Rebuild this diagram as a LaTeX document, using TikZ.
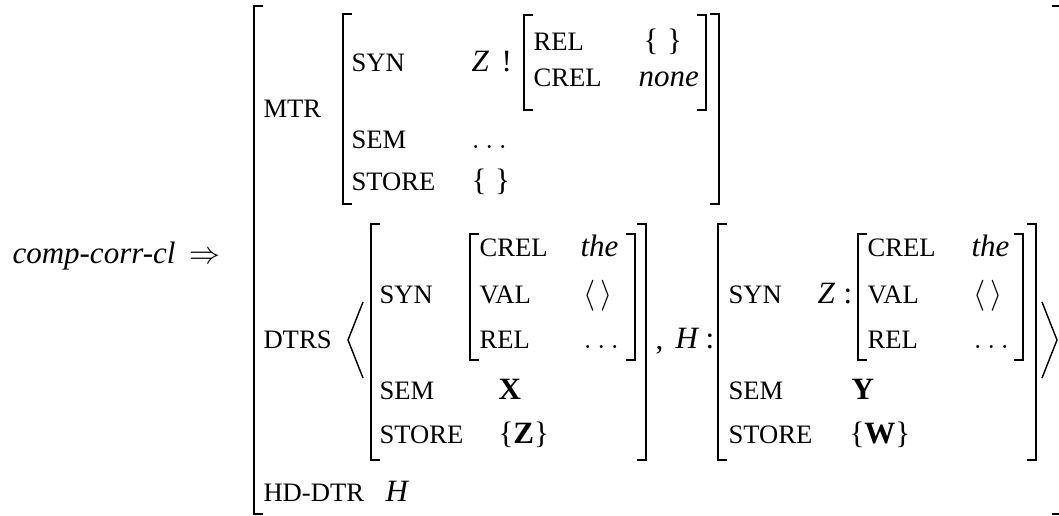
\documentclass[tikz,border=0pt]{standalone}
\usepackage{fontspec}
\setmainfont{Liberation Serif}
\begin{document}
\begin{tikzpicture}[x=0.387pt,y=-0.387pt]
\tikzset{
  lab/.style={inner sep=0pt, anchor=base west, font=\fontsize{10.3}{12}\selectfont},
  val/.style={inner sep=0pt, anchor=base west, font=\fontsize{12}{14}\selectfont},
  brk/.style={line width=0.75pt, line cap=butt, line join=miter},
  ang/.style={line width=0.55pt, line join=miter},
}
% square brackets: x, top, bottom
\newcommand\avmL[3]{\draw[brk] (#1+9,#2) -- (#1,#2) -- (#1,#3) -- (#1+9,#3);}
\newcommand\avmR[3]{\draw[brk] (#1-9,#2) -- (#1,#2) -- (#1,#3) -- (#1-9,#3);}
\useasboundingbox (0,0) rectangle (1059,516);

% type and implication
\node[val, anchor=base east] (type) at (176,264) {\textit{comp-corr-cl}};
\node[val] (impl) at (189,264) {$\Rightarrow$};

% outermost matrix
\avmL{254}{6}{514}
\avmR{1061}{6}{514}

% MTR
\node[lab] (mtr) at (263,118) {MTR};
\avmL{343}{14}{204}
\avmR{719}{14}{204}
\node[lab] (msyn) at (351,72) {SYN};
\node[val] (mz) at (471,72) {\textit{Z}};
\node[val] (mbang) at (501,72) {!};
\avmL{524}{15}{110}
\avmR{706}{15}{110}
\node[lab] (mrel) at (533,51) {REL};
\node[val] (mrelv) at (643,51) {\{\;\}};
\node[lab] (mcrel) at (533,87) {CREL};
\node[val] (mcrelv) at (638,87) {\textit{none}};
\node[lab] (msem) at (351,149) {SEM};
\node[val] (msemv) at (471,149) {$\ldots$};
\node[lab] (mstore) at (351,191) {STORE};
\node[val] (mstorev) at (471,191) {\{\;\}};

% DTRS
\node[lab] (dtrs) at (263,348) {DTRS};
\coordinate (la1) at (363,302);
\coordinate (la2) at (348,340);
\coordinate (la3) at (363,378);
\draw[ang] (la1) -- (la2) -- (la3);

% first daughter
\avmL{371}{224}{460}
\avmR{646}{224}{460}
\node[lab] (asyn) at (379,304) {SYN};
\avmL{470}{234}{360}
\avmR{635}{234}{360}
\node[lab] (acrel) at (479,257) {CREL};
\node[val] (acrelv) at (580,257) {\textit{the}};
\node[lab] (aval) at (479,304) {VAL};
\node[val] (avalv) at (583,304) {$\langle\,\rangle$};
\node[lab] (arel) at (479,348) {REL};
\node[val] (arelv) at (583,348) {$\ldots$};
\node[lab] (asem) at (379,399) {SEM};
\node[val] (asemv) at (498,399) {\textbf{X}};
\node[lab] (astore) at (379,443) {STORE};
\node[val] (astorev) at (498,443) {\{\textbf{Z}\}};

\node[val] (comma) at (655,350) {,};
\node[val] (hh) at (675,348) {\textit{H}};
\node[val] (hcolon) at (705,348) {:};

% head daughter
\avmL{718}{224}{460}
\avmR{1036}{224}{460}
\node[lab] (bsyn) at (728,304) {SYN};
\node[val] (bz) at (817,304) {\textit{Z}};
\node[val] (bcolon) at (843,304) {:};
\avmL{858}{234}{360}
\avmR{1023}{234}{360}
\node[lab] (bcrel) at (867,257) {CREL};
\node[val] (bcrelv) at (971,257) {\textit{the}};
\node[lab] (bval) at (867,304) {VAL};
\node[val] (bvalv) at (973,304) {$\langle\,\rangle$};
\node[lab] (brel) at (867,348) {REL};
\node[val] (brelv) at (973,348) {$\ldots$};
\node[lab] (bsem) at (728,399) {SEM};
\node[val] (bsemv) at (851,399) {\textbf{Y}};
\node[lab] (bstore) at (728,443) {STORE};
\node[val] (bstorev) at (849,443) {\{\textbf{W}\}};

\coordinate (ra1) at (1042,302);
\coordinate (ra2) at (1057,340);
\coordinate (ra3) at (1042,378);
\draw[ang] (ra1) -- (ra2) -- (ra3);

% HD-DTR
\node[lab] (hd) at (263,501) {HD-DTR};
\node[val] (hdv) at (385,501) {\textit{H}};
\end{tikzpicture}
\end{document}
